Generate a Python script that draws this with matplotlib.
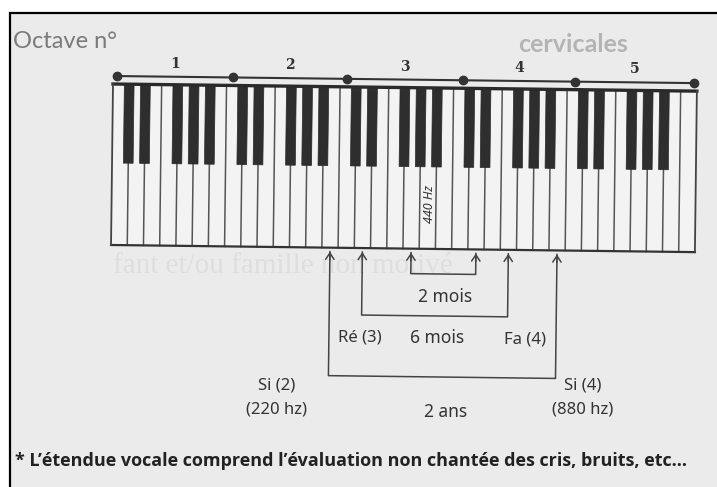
import matplotlib.pyplot as plt
from matplotlib import transforms
from matplotlib.patches import Rectangle, FancyArrowPatch

plt.rcParams['font.family'] = ['Noto Sans', 'DejaVu Sans']

# clavier : 5 octaves + un do final
n_blanches = 36
notes = ['Do', 'Ré', 'Mi', 'Fa', 'Sol', 'La', 'Si']
noires_octave = [1, 2, 4, 5, 6]          # séparations qui portent une touche noire
octaves = ['1', '2', '3', '4', '5']
points_octaves = [0.25, 7.4, 14.4, 21.6, 28.5, 35.8]   # en largeurs de touche

# étendue vocale selon l'âge
ages = ['2 mois', '6 mois', '2 ans']
note_debut = [('Sol', 3), ('Ré', 3), ('Si', 2)]
note_fin = [('Ré', 4), ('Fa', 4), ('Si', 4)]

# mise en page (pixels)
X0, W = 113, 16.22
Y_HAUT, Y_BAS, Y_NOIRE = 84, 245, 163
Y_LIGNE = 76
Y_FLECHE = 249
y_crochets = [270, 312, 373]
y_textes = [297, 338, 412]
ANGLE = 0.7      # le scan est un peu penché

fig = plt.figure(figsize=(7.17, 4.87), dpi=100)
ax = fig.add_axes([0, 0, 1, 1])
ax.set_xlim(0, 717)
ax.set_ylim(487, 0)
ax.axis('off')

tr = transforms.Affine2D().rotate_deg_around(X0, Y_HAUT, ANGLE) + ax.transData

# fond de page + cadre
ax.add_patch(Rectangle((10, 13), 720, 490, facecolor='#ebebeb',
                       edgecolor='black', lw=1.6, zorder=0))

# texte qui transparaît de la page d'en face
ax.text(573, 45, 'cervicales', fontsize=18, fontweight='bold', family='Lato',
        color='#b4b4b4', ha='center', va='center', zorder=0.5)
ax.text(113, 266, 'fant et/ou famille non motivé', fontsize=21, family='Liberation Serif',
        color='#dedede', ha='left', va='center', zorder=0.5)

def px(i):
    return X0 + i * W

# touches blanches
ax.add_patch(Rectangle((X0, Y_HAUT), n_blanches * W, Y_BAS - Y_HAUT,
                       facecolor='#f3f3f3', edgecolor='none', transform=tr, zorder=1))
for i in range(1, n_blanches):
    ax.plot([px(i), px(i)], [Y_HAUT, Y_BAS], color='#555555', lw=1.1,
            transform=tr, zorder=2)

# touches noires
lw_noire = 0.6 * W
for o in range(len(octaves)):
    for j in noires_octave:
        x = px(o * 7 + j)
        ax.add_patch(Rectangle((x - lw_noire / 2, Y_HAUT), lw_noire, Y_NOIRE - Y_HAUT,
                               facecolor='#2e2e2e', edgecolor='#2a2a2a', lw=0.5,
                               transform=tr, zorder=3))

# contour du clavier
ax.plot([px(0), px(n_blanches)], [Y_HAUT, Y_HAUT], color='#2a2a2a', lw=2.4, transform=tr, zorder=4)
ax.plot([px(0), px(n_blanches)], [Y_BAS, Y_BAS], color='#333333', lw=1.6, transform=tr, zorder=4)
ax.plot([px(0), px(0)], [Y_HAUT, Y_BAS], color='#444444', lw=1.3, transform=tr, zorder=4)
ax.plot([px(n_blanches), px(n_blanches)], [Y_HAUT, Y_BAS], color='#444444', lw=1.3, transform=tr, zorder=4)

# ligne des octaves
xs = [px(p) for p in points_octaves]
ax.plot(xs, [Y_LIGNE] * len(xs), color='#333333', lw=1.5, marker='o',
        markersize=6, transform=tr, zorder=4)
for k, lab in enumerate(octaves):
    ax.text((xs[k] + xs[k + 1]) / 2, Y_LIGNE - 13, lab, fontsize=10, fontweight='bold',
            family='DejaVu Serif', color='#333333', ha='center', va='center', transform=tr)

ax.text(13, 41, 'Octave n°', fontsize=17, family='Lato', color='#7a7a7a',
        ha='left', va='center')

# La 440 Hz écrit à la main
ax.text(px(19.5) + 2, 200, '440 Hz', fontsize=9, fontstyle='italic', rotation=90,
        color='#333333', ha='center', va='center', transform=tr, zorder=5)

def centre(note):
    nom, octv = note
    return px((octv - 1) * 7 + notes.index(nom) + 0.5)

# crochets avec flèches
for a, b, yb, yt, lab in zip(note_debut, note_fin, y_crochets, y_textes, ages):
    xa, xb = centre(a), centre(b)
    ax.plot([xa, xa, xb, xb], [Y_FLECHE, yb, yb, Y_FLECHE], color='#444444',
            lw=1.1, transform=tr, zorder=4)
    for x in (xa, xb):
        ax.add_patch(FancyArrowPatch((x, Y_FLECHE + 8), (x, Y_FLECHE),
                                     arrowstyle='->,head_length=4.5,head_width=3',
                                     color='#444444', lw=1.1, shrinkA=0, shrinkB=0,
                                     transform=tr, zorder=4))
    ax.text((xa + xb) / 2, yt, lab, fontsize=12.5, color='#333333',
            ha='center', va='center')

# noms des notes
ax.text(360, 338, 'Ré (3)', fontsize=12, color='#333333', ha='center', va='center')
ax.text(525, 340, 'Fa (4)', fontsize=12, color='#333333', ha='center', va='center')
ax.text(277, 385, 'Si (2)', fontsize=12, color='#333333', ha='center', va='center')
ax.text(277, 410, '(220 hz)', fontsize=12, color='#333333', ha='center', va='center')
ax.text(583, 385, 'Si (4)', fontsize=12, color='#333333', ha='center', va='center')
ax.text(583, 410, '(880 hz)', fontsize=12, color='#333333', ha='center', va='center')

ax.text(15, 461, '* L’étendue vocale comprend l’évaluation non chantée des cris, bruits, etc...',
        fontsize=13.0, fontweight='bold', family='Open Sans', color='#222222',
        ha='left', va='center')

fig.savefig('out.png', dpi=100, facecolor='white')
